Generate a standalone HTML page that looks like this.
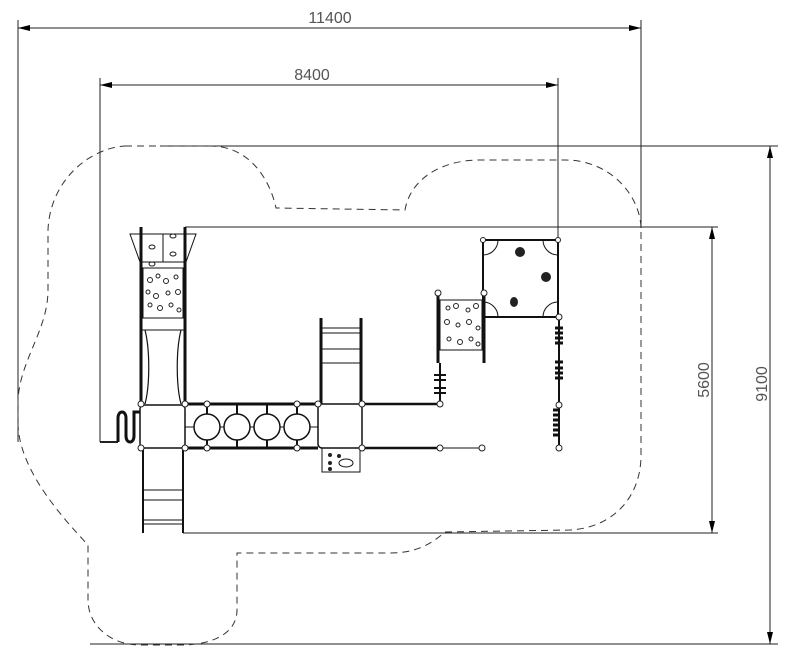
<!DOCTYPE html>
<html><head><meta charset="utf-8"><style>
html,body{margin:0;padding:0;background:#fff;width:800px;height:662px;overflow:hidden}
svg{display:block}
text{font-family:"Liberation Sans",sans-serif;fill:#555}
</style></head><body>
<svg width="800" height="662" viewBox="0 0 800 662" xmlns="http://www.w3.org/2000/svg">
<defs>
<marker id="a" markerWidth="12" markerHeight="6" refX="12" refY="3" orient="auto-start-reverse" markerUnits="userSpaceOnUse"><path d="M0,0 L12,3 L0,6 z" fill="#000"/></marker>
</defs>
<g stroke="#222" stroke-width="1" fill="none">
<line x1="18" y1="28" x2="641" y2="28" marker-start="url(#a)" marker-end="url(#a)"/>
<line x1="18" y1="20" x2="18" y2="442"/>
<line x1="641" y1="20" x2="641" y2="228"/>
<line x1="100" y1="85" x2="558" y2="85" marker-start="url(#a)" marker-end="url(#a)"/>
<line x1="100" y1="78" x2="100" y2="442"/>
<line x1="100" y1="442" x2="118" y2="442" stroke-width="2"/>
<line x1="558" y1="78" x2="558" y2="240"/>
<line x1="160" y1="146" x2="778" y2="146"/>
<line x1="90" y1="644" x2="778" y2="644"/>
<line x1="770" y1="146" x2="770" y2="644" marker-start="url(#a)" marker-end="url(#a)"/>
<line x1="185" y1="227" x2="718" y2="227"/>
<line x1="183" y1="533" x2="718" y2="533"/>
<line x1="712" y1="227" x2="712" y2="533" marker-start="url(#a)" marker-end="url(#a)"/>
</g>
<text x="330" y="23" font-size="16" text-anchor="middle">11400</text>
<text x="312" y="80" font-size="16" text-anchor="middle">8400</text>
<text transform="translate(709,380) rotate(-90)" font-size="16" text-anchor="middle">5600</text>
<text transform="translate(767,384) rotate(-90)" font-size="16" text-anchor="middle">9100</text>
<path d="M125,146 L210,146 C250,146 270,180 276,208 L405,210 C410,180 440,160 480,160 L565,160 C610,160 640,195 641,228 L641,455 C641,500 610,528 570,530 L445,532 C430,545 415,553 390,553 L237,553 L237,610 C237,632 215,645 180,645 L140,645 C110,645 88,625 88,600 L88,545 C60,515 20,470 18,425 L18,400 C20,360 48,330 48,290 L48,230 C50,180 90,148 125,146 Z" fill="none" stroke="#333" stroke-width="1" stroke-dasharray="7,5"/>
<g stroke="#111" fill="none">
<path d="M130,234 L196,234 L186,262 L140,262 Z" stroke-width="1"/>
<line x1="163" y1="234" x2="163" y2="262"/>
<line x1="141" y1="227" x2="141" y2="405" stroke-width="3"/>
<line x1="185" y1="227" x2="185" y2="405" stroke-width="3"/>
<rect x="143" y="268" width="40" height="50" stroke-width="1"/>
<path d="M145,330 C150,350 150,385 145,404" stroke-width="1.2"/>
<path d="M181,330 C176,350 176,385 181,404" stroke-width="1.2"/>
<line x1="141" y1="330" x2="185" y2="330"/>
<rect x="140" y="405" width="45" height="43" rx="4" stroke-width="1.5"/>
<path d="M118,442 L118,418 C118,410 126,410 126,418 L126,436 C126,444 134,444 134,436 L134,412 L140,412" stroke-width="3"/>
<line x1="143" y1="448" x2="143" y2="533" stroke-width="2"/>
<line x1="183" y1="448" x2="183" y2="533" stroke-width="2"/>
<line x1="143" y1="490" x2="183" y2="490"/><line x1="143" y1="500" x2="183" y2="500"/><line x1="143" y1="520" x2="183" y2="520"/><line x1="143" y1="524" x2="183" y2="524"/>
<line x1="185" y1="404" x2="318" y2="404" stroke-width="3"/>
<line x1="185" y1="448" x2="318" y2="448" stroke-width="3"/>
<line x1="185" y1="427" x2="318" y2="427"/>
<g stroke-width="2">
<line x1="207" y1="404" x2="207" y2="448"/><line x1="237" y1="404" x2="237" y2="448"/><line x1="267" y1="404" x2="267" y2="448"/><line x1="297" y1="404" x2="297" y2="448"/>
</g>
<g fill="#fff" stroke-width="1.5">
<circle cx="207" cy="427" r="13"/><circle cx="237" cy="427" r="13"/><circle cx="267" cy="427" r="13"/><circle cx="297" cy="427" r="13"/>
</g>
<rect x="318" y="404" width="44" height="44" rx="4" stroke-width="1.5"/>
<line x1="321" y1="318" x2="321" y2="404" stroke-width="3"/>
<line x1="361" y1="318" x2="361" y2="404" stroke-width="3"/>
<line x1="321" y1="328" x2="361" y2="328"/><line x1="321" y1="333" x2="361" y2="333"/><line x1="321" y1="349" x2="361" y2="349"/><line x1="321" y1="363" x2="361" y2="363"/>
<rect x="322" y="448" width="38" height="24" stroke-width="1"/>
<ellipse cx="346" cy="463" rx="7" ry="4"/>
<line x1="362" y1="404" x2="440" y2="404" stroke-width="2.5"/>
<line x1="362" y1="448" x2="440" y2="448" stroke-width="2.5"/>
<line x1="440" y1="448" x2="482" y2="448" stroke-width="1"/>
<line x1="438" y1="293" x2="438" y2="363" stroke-width="3"/>
<line x1="484" y1="293" x2="484" y2="363" stroke-width="3"/>
<rect x="440" y="300" width="42" height="50" stroke-width="1"/>
<line x1="440" y1="363" x2="440" y2="404" stroke-width="2"/>
<path d="M434,375 H446 M434,380 H446 M434,388 H446 M434,393 H446" stroke-width="2"/>
<rect x="483" y="240" width="75" height="77" stroke-width="2"/>
<path d="M483,255 A15,15 0 0 0 498,240 M543,240 A15,15 0 0 0 558,255 M483,302 A15,15 0 0 1 498,317 M558,302 A15,15 0 0 0 543,317" stroke-width="1"/>
<line x1="559" y1="317" x2="559" y2="448" stroke-width="2"/>
<path d="M555,328 h8 M555,333 h8 M555,338 h8 M555,343 h8 M555,362 h8 M555,368 h8 M555,373 h8 M555,378 h8 M553,410 h6 M553,415 h6 M553,420 h6 M553,425 h6 M553,430 h6 M553,435 h6" stroke-width="3"/>
</g>
<g fill="none" stroke="#222" stroke-width="1">
<ellipse cx="152" cy="247" rx="3" ry="2"/><ellipse cx="173" cy="236" rx="3" ry="2"/><ellipse cx="173" cy="254" rx="3" ry="2"/><ellipse cx="152" cy="264" rx="3" ry="2"/>
<circle cx="150" cy="280" r="2.5"/><circle cx="158" cy="276" r="2"/><circle cx="166" cy="281" r="2.5"/><circle cx="176" cy="277" r="2"/><circle cx="148" cy="292" r="2"/><circle cx="156" cy="296" r="2.5"/><circle cx="168" cy="293" r="2"/><circle cx="178" cy="292" r="2.5"/><circle cx="150" cy="305" r="2"/><circle cx="160" cy="308" r="2.5"/><circle cx="171" cy="305" r="2"/><circle cx="179" cy="310" r="2"/>
<circle cx="448" cy="308" r="2"/><circle cx="456" cy="306" r="2.5"/><circle cx="468" cy="310" r="2"/><circle cx="476" cy="306" r="2.5"/><circle cx="447" cy="322" r="2.5"/><circle cx="458" cy="325" r="2"/><circle cx="469" cy="322" r="2.5"/><circle cx="478" cy="328" r="2"/><circle cx="449" cy="339" r="2"/><circle cx="460" cy="342" r="2.5"/><circle cx="471" cy="339" r="2"/><circle cx="478" cy="344" r="2"/>
</g>
<g fill="#222">
<ellipse cx="520" cy="252" rx="5" ry="5"/><ellipse cx="546" cy="277" rx="5" ry="5"/><ellipse cx="514" cy="302" rx="4" ry="5"/>
<circle cx="330" cy="455" r="2"/><circle cx="330" cy="463" r="2"/><circle cx="339" cy="456" r="2"/><circle cx="330" cy="469" r="2"/>
</g>
<g fill="#fff" stroke="#222" stroke-width="1">
<circle cx="141" cy="404" r="3"/><circle cx="185" cy="404" r="3"/><circle cx="141" cy="448" r="3"/><circle cx="185" cy="448" r="3"/>
<circle cx="207" cy="404" r="3"/><circle cx="297" cy="404" r="3"/><circle cx="207" cy="448" r="3"/><circle cx="297" cy="448" r="3"/>
<circle cx="362" cy="404" r="3"/><circle cx="362" cy="448" r="3"/><circle cx="318" cy="404" r="3"/>
<circle cx="440" cy="404" r="3"/><circle cx="440" cy="448" r="3"/><circle cx="482" cy="448" r="3"/>
<circle cx="438" cy="293" r="3"/><circle cx="484" cy="293" r="3"/><circle cx="559" cy="317" r="3"/><circle cx="559" cy="405" r="3"/><circle cx="559" cy="448" r="3"/>
<circle cx="483" cy="240" r="2.5"/><circle cx="558" cy="240" r="2.5"/>
</g>
</svg>
</body></html>
